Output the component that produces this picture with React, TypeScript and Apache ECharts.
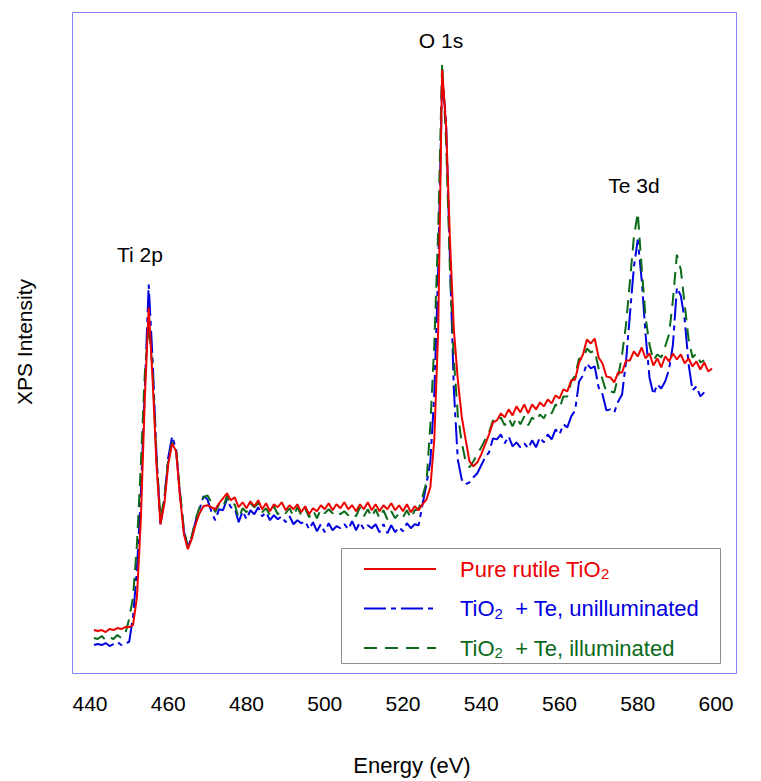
import React, { useEffect, useRef } from "react";
import * as echarts from "echarts";

// Binding energy (eV), shared sampling of the three spectra
const energyEv = [
  441,
  442, 443, 444, 445, 446, 447, 448, 449, 450, 451,
  452, 453, 454, 455, 456, 457, 458, 459, 460, 461,
  462, 463, 464, 465, 466, 467, 468, 469, 470, 471,
  472, 473, 474, 475, 476, 477, 478, 479, 480, 481,
  482, 483, 484, 485, 486, 487, 488, 489, 490, 491,
  492, 493, 494, 495, 496, 497, 498, 499, 500, 501,
  502, 503, 504, 505, 506, 507, 508, 509, 510, 511,
  512, 513, 514, 515, 516, 517, 518, 519, 520, 521,
  522, 523, 524, 525, 526, 527, 528, 529, 530, 531,
  532, 533, 534, 535, 536, 537, 538, 539, 540, 541,
  542, 543, 544, 545, 546, 547, 548, 549, 550, 551,
  552, 553, 554, 555, 556, 557, 558, 559, 560, 561,
  562, 563, 564, 565, 566, 567, 568, 569, 570, 571,
  572, 573, 574, 575, 576, 577, 578, 579, 580, 581,
  582, 583, 584, 585, 586, 587, 588, 589, 590, 591,
  592, 593, 594, 595, 596, 597, 598, 599,
];

// XPS intensity (arbitrary units)
const pureRutile = [
  42,
  41, 42, 40, 43, 42, 44, 43, 45, 45, 47,
  75, 153, 273, 365, 293, 208, 148, 168, 208, 229,
  221, 176, 138, 123, 133, 148, 159, 166, 167, 165,
  163, 169, 174, 179, 172, 175, 165, 170, 164, 171,
  166, 172, 163, 169, 161, 168, 165, 170, 162, 167,
  163, 168, 160, 166, 158, 164, 161, 167, 163, 169,
  162, 168, 164, 170, 163, 167, 161, 168, 163, 170,
  162, 168, 161, 167, 163, 169, 162, 167, 161, 168,
  160, 166, 162, 168, 173, 185, 233, 343, 603, 548,
  433, 343, 293, 256, 233, 211, 206, 210, 218, 228,
  238, 250, 252, 259, 255, 263, 257, 266, 260, 268,
  259, 268, 263, 270, 266, 273, 269, 277, 274, 283,
  281, 292, 293, 310, 318, 333, 329, 334, 315, 309,
  296, 295, 290, 300, 300, 312, 312, 321, 316, 325,
  314, 319, 307, 314, 305, 316, 311, 319, 313, 318,
  309, 314, 306, 311, 303, 310, 301, 304,
];

const teUnilluminated = [
  27,
  28, 27, 29, 26, 28, 30, 27, 29, 30, 55,
  103, 178, 283, 388, 313, 218, 148, 173, 215, 236,
  223, 178, 141, 125, 135, 151, 163, 176, 173, 161,
  152, 163, 162, 173, 165, 164, 150, 161, 153, 162,
  158, 165, 156, 160, 152, 157, 153, 156, 150, 156,
  148, 152, 149, 151, 143, 150, 141, 148, 140, 149,
  142, 146, 144, 148, 143, 151, 142, 150, 143, 147,
  144, 148, 140, 148, 139, 147, 140, 145, 141, 149,
  144, 148, 147, 168, 188, 211, 278, 403, 596, 553,
  413, 283, 213, 193, 188, 190, 195, 199, 207, 215,
  220, 234, 233, 238, 229, 236, 226, 230, 225, 229,
  224, 232, 225, 235, 230, 238, 233, 243, 238, 248,
  245, 256, 262, 291, 297, 309, 304, 306, 285, 278,
  262, 263, 260, 271, 278, 311, 358, 405, 433, 393,
  338, 295, 278, 288, 284, 291, 303, 328, 385, 377,
  353, 308, 282, 286, 276, 280,
];

const teIlluminated = [
  34,
  33, 36, 32, 35, 33, 37, 34, 38, 53, 75,
  128, 208, 298, 348, 303, 213, 155, 173, 213, 230,
  223, 181, 143, 125, 136, 153, 165, 175, 177, 170,
  160, 168, 165, 176, 167, 168, 154, 164, 160, 169,
  165, 169, 160, 164, 157, 166, 158, 162, 159, 164,
  156, 165, 157, 164, 155, 162, 154, 163, 159, 163,
  159, 162, 158, 161, 157, 160, 156, 165, 156, 163,
  155, 163, 154, 162, 153, 161, 154, 159, 155, 162,
  154, 162, 163, 176, 190, 248, 328, 443, 610, 533,
  403, 313, 258, 230, 211, 205, 211, 218, 225, 233,
  240, 252, 250, 255, 247, 254, 246, 255, 248, 256,
  247, 255, 251, 258, 254, 262, 259, 268, 264, 276,
  276, 291, 297, 314, 313, 324, 320, 322, 304, 293,
  280, 281, 280, 296, 318, 348, 391, 435, 460, 405,
  355, 328, 312, 318, 315, 326, 338, 373, 418, 403,
  368, 333, 315, 319, 310, 312,
];

const seriesNames = [
  "Pure rutile TiO2",
  "TiO2 + Te, unilluminated",
  "TiO2 + Te, illuminated",
];
const peakNames = ["Ti 2p", "O 1s", "Te 3d"];

const FONT = "'Liberation Sans', Arial, Helvetica, sans-serif";
const RED = "#ec0000";
const BLUE = "#0000e0";
const GREEN = "#0b6a1a";

const toPairs = (vals: number[]) => vals.map((v, i) => [energyEv[i], v]);

export default function App() {
  const ref = useRef<HTMLDivElement>(null);
  useEffect(() => {
    const chart = echarts.init(ref.current!, null, { renderer: "svg" });
    const legendRich = {
      g: { width: 19 },
      r: { color: RED, fontSize: 22, fontFamily: FONT, lineHeight: 24 },
      rs: { color: RED, fontSize: 15, fontFamily: FONT, lineHeight: 15, verticalAlign: "bottom" },
      b: { color: BLUE, fontSize: 22, fontFamily: FONT, lineHeight: 24 },
      bs: { color: BLUE, fontSize: 15, fontFamily: FONT, lineHeight: 15, verticalAlign: "bottom" },
      gr: { color: GREEN, fontSize: 22, fontFamily: FONT, lineHeight: 24 },
      gs: { color: GREEN, fontSize: 15, fontFamily: FONT, lineHeight: 15, verticalAlign: "bottom" },
    };
    chart.setOption({
      animation: false,
      backgroundColor: "#ffffff",
      grid: { left: 90, right: 45, top: 12, bottom: 108 },
      xAxis: {
        type: "value",
        min: 440,
        max: 600,
        interval: 20,
        axisLine: { show: false },
        axisTick: { show: false },
        splitLine: { show: false },
        axisLabel: { color: "#000", fontSize: 21, fontFamily: FONT, margin: 21 },
        name: "Energy (eV)",
        nameLocation: "middle",
        nameGap: 82,
        nameTextStyle: { color: "#000", fontSize: 22, fontFamily: FONT, padding: [0, 0, 0, 18] },
      },
      yAxis: {
        type: "value",
        min: 0,
        max: 661,
        axisLine: { show: false },
        axisTick: { show: false },
        axisLabel: { show: false },
        splitLine: { show: false },
        name: "XPS Intensity",
        nameLocation: "middle",
        nameGap: 55,
        nameTextStyle: { color: "#000", fontSize: 21, fontFamily: FONT },
      },
      legend: {
        orient: "vertical",
        left: 363,
        top: 558,
        itemWidth: 72,
        itemHeight: 14,
        itemGap: 16.5,
        padding: 0,
        data: seriesNames,
        itemStyle: { color: "rgba(0,0,0,0)", borderWidth: 0, opacity: 0 },
        formatter: (name: string) => {
          if (name === seriesNames[0]) return "{g| }{r|Pure rutile TiO}{rs|2}";
          if (name === seriesNames[1]) return "{g| }{b|TiO}{bs|2}{b|  + Te, unilluminated}";
          return "{g| }{gr|TiO}{gs|2}{gr|  + Te, illuminated}";
        },
        textStyle: { fontSize: 22, fontFamily: FONT, rich: legendRich },
      },
      series: [
        {
          name: seriesNames[0],
          type: "line",
          data: toPairs(pureRutile),
          showSymbol: false,
          symbol: "none",
          z: 4,
          lineStyle: { color: RED, width: 2 },
          itemStyle: { color: RED },
        },
        {
          name: seriesNames[1],
          type: "line",
          data: toPairs(teUnilluminated),
          showSymbol: false,
          symbol: "none",
          z: 3,
          lineStyle: { color: BLUE, width: 2, type: [22, 5, 5, 5] },
          itemStyle: { color: BLUE },
        },
        {
          name: seriesNames[2],
          type: "line",
          data: toPairs(teIlluminated),
          showSymbol: false,
          symbol: "none",
          z: 3,
          lineStyle: { color: GREEN, width: 2, type: [13, 8] },
          itemStyle: { color: GREEN },
        },
      ],
      graphic: [
        {
          type: "rect",
          silent: true,
          z: -10,
          shape: { x: 72.5, y: 12.5, width: 664, height: 661 },
          style: { fill: "none", stroke: "#8484f4", lineWidth: 1 },
        },
        {
          type: "rect",
          silent: true,
          z: -10,
          shape: { x: 341.5, y: 548.5, width: 379, height: 115 },
          style: { fill: "none", stroke: "#8c8c8c", lineWidth: 1 },
        },
        {
          type: "text",
          x: 140,
          y: 254,
          style: { text: peakNames[0], fontSize: 21, fontFamily: FONT, fill: "#000", align: "center", verticalAlign: "middle" },
        },
        {
          type: "text",
          x: 441,
          y: 40,
          style: { text: peakNames[1], fontSize: 21, fontFamily: FONT, fill: "#000", align: "center", verticalAlign: "middle" },
        },
        {
          type: "text",
          x: 634,
          y: 185,
          style: { text: peakNames[2], fontSize: 21, fontFamily: FONT, fill: "#000", align: "center", verticalAlign: "middle" },
        },
      ],
    });
    return () => chart.dispose();
  }, []);
  return (
    <div
      ref={ref}
      style={{ position: "fixed", left: 0, top: 0, width: 761, height: 781, background: "#fff" }}
    />
  );
}
